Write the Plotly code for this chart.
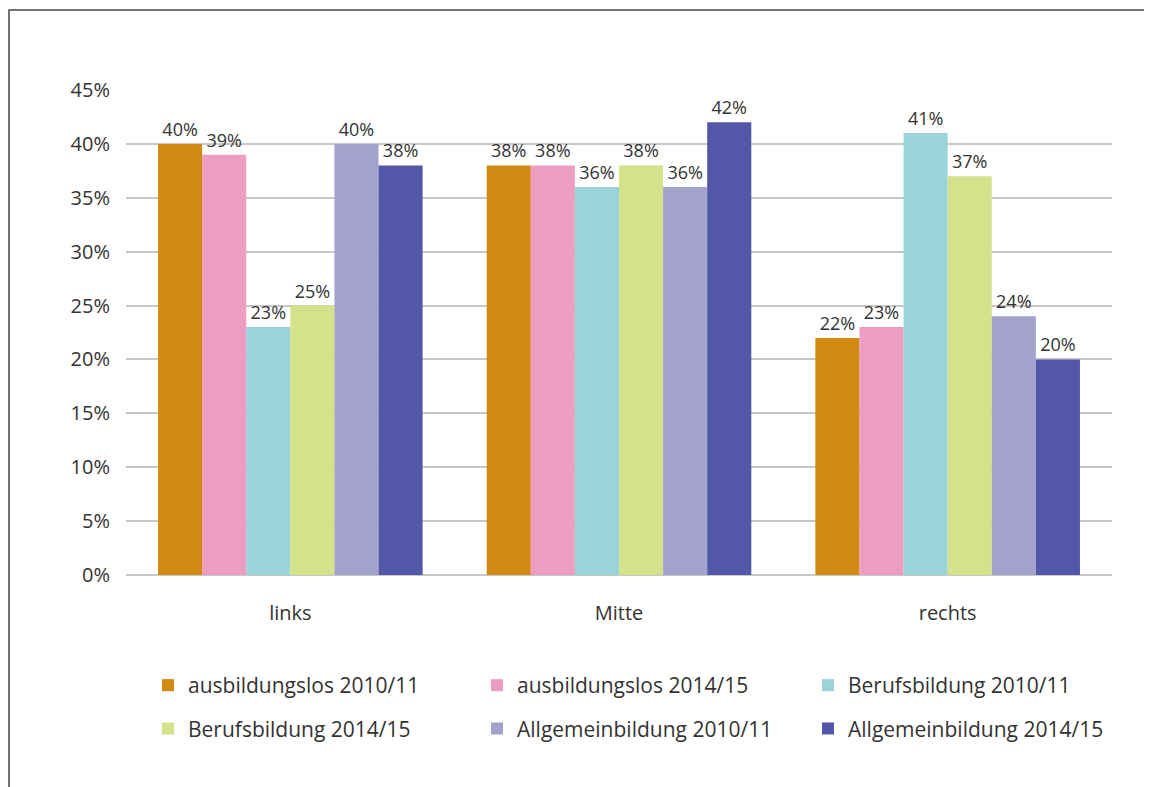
import plotly.graph_objects as go

categories = ["links", "Mitte", "rechts"]
series_names = [
    "ausbildungslos 2010/11", "ausbildungslos 2014/15", "Berufsbildung 2010/11",
    "Berufsbildung 2014/15", "Allgemeinbildung 2010/11", "Allgemeinbildung 2014/15",
]
ausb_1011 = [40, 38, 22]
ausb_1415 = [39, 38, 23]
beruf_1011 = [23, 36, 41]
beruf_1415 = [25, 38, 37]
allg_1011 = [40, 36, 24]
allg_1415 = [38, 42, 20]
colors = ["#D08A12", "#EC9DC1", "#98D4DA", "#D5E28C", "#A2A2CC", "#5257A8"]

values = [ausb_1011, ausb_1415, beruf_1011, beruf_1415, allg_1011, allg_1415]
# legend column for each series (legend laid out in 3 columns x 2 rows)
legend_ids = ["legend", "legend2", "legend3", "legend", "legend2", "legend3"]

FONT = "Open Sans"
TXT = "#333333"
fig = go.Figure()
for i, (name, vals, col, lg) in enumerate(zip(series_names, values, colors, legend_ids)):
    fig.add_trace(go.Bar(
        x=categories, y=vals, name=name, marker=dict(color=col, line=dict(width=0)),
        text=[f"{v}%" for v in vals], textposition="outside",
        textfont=dict(size=18, color=TXT, family=FONT), cliponaxis=False,
        legend=lg, legendgroup=f"g{i}",
    ))

# page has an 8px body margin; work in reference-screen pixels
OFF = 8
W, H = 1152 - OFF, 787 - OFF
L, R, T, B = 126, 1112, 90, 575  # plot area in screen px
ml, mr, mt, mb = L - OFF, W - (R - OFF), T - OFF, H - (B - OFF)
pw, ph = W - ml - mr, H - mt - mb

def px(x):
    return (x - OFF - ml) / pw

def py(y):
    return (H - mb - (y - OFF)) / ph

def leg(xs):
    return dict(
        orientation="v", x=px(xs), y=py(665), xanchor="left", yanchor="top",
        font=dict(size=21, family=FONT, color=TXT), bgcolor="rgba(0,0,0,0)",
        traceorder="grouped", tracegroupgap=13, itemwidth=30,
    )

fig.update_layout(
    width=W, height=H,
    margin=dict(l=ml, r=mr, t=mt, b=mb),
    paper_bgcolor="white", plot_bgcolor="white",
    barmode="group", bargap=0.195, bargroupgap=0,
    font=dict(family=FONT, size=20, color=TXT),
    showlegend=True,
    legend=leg(148), legend2=leg(477), legend3=leg(808),
    xaxis=dict(showgrid=False, showline=False, ticks="", tickfont=dict(size=20),
               ticklabelstandoff=24),
    yaxis=dict(
        range=[0, 45], dtick=5, ticksuffix="%", showgrid=True,
        gridcolor="#C8C8C8", gridwidth=2, zeroline=True, zerolinecolor="#C8C8C8",
        zerolinewidth=2, showline=False, ticks="", tickfont=dict(size=20),
        ticklabelstandoff=15,
    ),
    shapes=[dict(
        type="rect", xref="paper", yref="paper",
        x0=px(9), x1=px(1200), y0=py(10), y1=py(840),
        line=dict(color="#444444", width=1.5), fillcolor="rgba(0,0,0,0)",
        layer="below",
    )],
)

fig.write_html("out.html")
